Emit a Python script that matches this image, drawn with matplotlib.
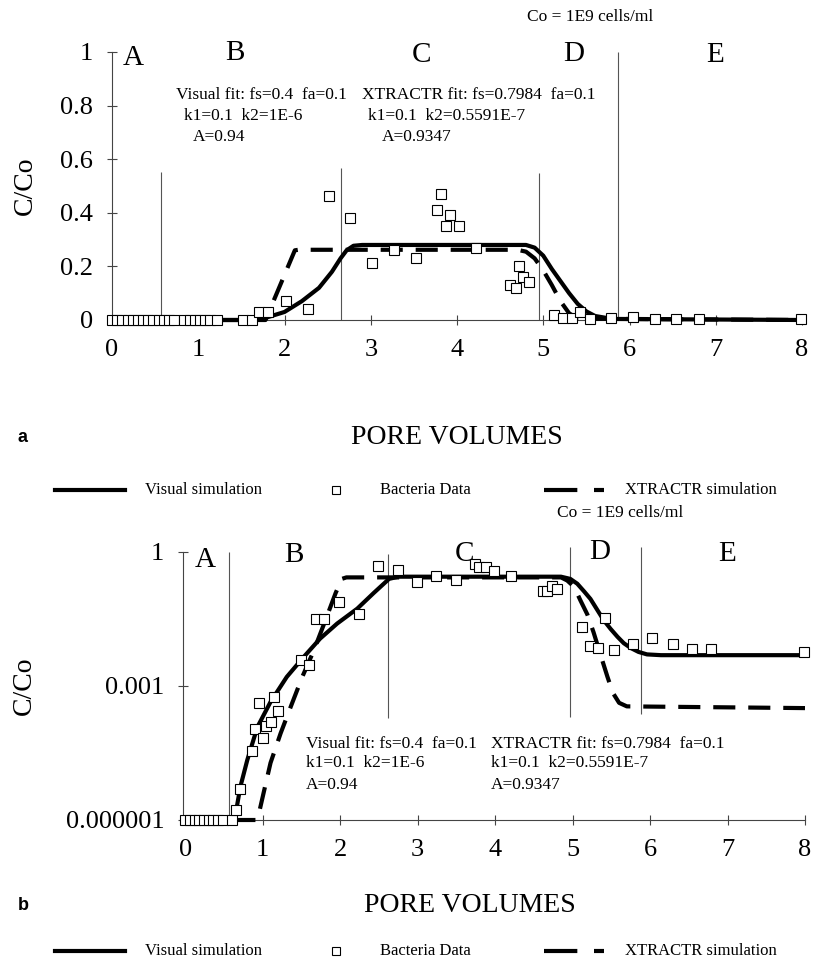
import matplotlib as mpl
import matplotlib.pyplot as plt
from matplotlib.lines import Line2D

mpl.rcParams.update({
    "font.family": "Liberation Serif",
    "axes.edgecolor": "#444444",
    "axes.linewidth": 0.8,
    "xtick.color": "#444444",
    "ytick.color": "#444444",
    "xtick.labelcolor": "black",
    "ytick.labelcolor": "black",
})

# ---------- panel a (linear C/Co) ----------
a_data_x = [0.0, 0.06, 0.12, 0.18, 0.24, 0.30, 0.36, 0.42, 0.48, 0.54, 0.60, 0.66, 0.72,
            0.84, 0.90, 0.96, 1.02, 1.08, 1.14, 1.22,
            1.52, 1.62, 1.71, 1.81, 2.02, 2.27, 2.52, 2.76, 3.02, 3.27, 3.52,
            3.77, 3.82, 3.87, 3.92, 4.02, 4.22, 4.62, 4.68, 4.72, 4.77, 4.83,
            5.13, 5.23, 5.33, 5.43, 5.54, 5.79, 6.04, 6.29, 6.54, 6.80, 7.99]
a_data_y = [0.0] * 20 + [
            0.0, 0.0, 0.03, 0.03, 0.072, 0.041, 0.463, 0.382, 0.211, 0.261, 0.231,
            0.411, 0.470, 0.351, 0.392, 0.351, 0.269, 0.129, 0.120, 0.201, 0.160, 0.140,
            0.019, 0.007, 0.007, 0.030, 0.005, 0.007, 0.010, 0.004, 0.004, 0.004, 0.004]

a_visual_x = [0.0, 1.6, 1.8, 2.0, 2.2, 2.4, 2.55, 2.65, 2.72, 2.8, 2.9,
              4.8, 4.9, 5.0, 5.1, 5.2, 5.3, 5.4, 5.5, 5.6, 5.8, 8.0]
a_visual_y = [0.0, 0.0, 0.01, 0.03, 0.07, 0.12, 0.18, 0.23, 0.26, 0.277, 0.28,
              0.28, 0.27, 0.24, 0.19, 0.145, 0.10, 0.06, 0.032, 0.015, 0.004, 0.0]

a_xtr_x = [0.0, 1.78, 2.12, 2.16, 4.7, 4.8, 4.9, 5.0, 5.1, 5.2, 5.3, 5.4, 8.0]
a_xtr_y = [0.0, 0.0, 0.26, 0.262, 0.262, 0.255, 0.23, 0.185, 0.13, 0.07, 0.025, 0.005, 0.0]

a_zone_x = [0.57, 2.65, 4.95, 5.87]
a_zone_top = [0.553, 0.566, 0.547, 1.0]

# ---------- panel b (log C/Co) ----------
b_data_x = [0.0, 0.06, 0.12, 0.18, 0.24, 0.30, 0.36, 0.42, 0.48, 0.60,
            0.655, 0.70, 0.86, 0.90, 0.95, 1.00, 1.04, 1.10, 1.15, 1.20,
            1.49, 1.60, 1.69, 1.79, 1.99, 2.24, 2.49, 2.74, 2.99, 3.24, 3.50,
            3.74, 3.79, 3.88, 3.98, 4.20, 4.62, 4.67, 4.73, 4.80,
            5.12, 5.22, 5.33, 5.42, 5.53, 5.78, 6.03, 6.29, 6.54, 6.79, 7.99]
b_data_y = [1e-6] * 10 + [
            1.7e-6, 5e-6, 3.5e-5, 1.1e-4, 4.2e-4, 6.9e-5, 1.3e-4, 1.55e-4, 5.7e-4, 2.7e-4,
            3.8e-3, 2.9e-3, 0.032, 0.032, 0.075, 0.04, 0.48, 0.40, 0.21, 0.29, 0.24,
            0.55, 0.45, 0.45, 0.38, 0.29, 0.135, 0.135, 0.17, 0.15,
            0.021, 0.0079, 0.0071, 0.033, 0.0063, 0.0089, 0.0116, 0.0089, 0.0069, 0.0069, 0.0058]

b_visual_x = [0.60, 0.65, 0.71, 0.80, 0.93, 1.10, 1.31, 1.53, 1.74, 1.96, 2.22, 2.43,
              2.63, 2.75, 4.85, 4.97, 5.06, 5.15, 5.23, 5.32, 5.40, 5.49, 5.58, 5.66,
              5.75, 5.85, 5.96, 6.14, 8.0]
b_visual_y = [1e-6, 1.4e-6, 5.5e-6, 2.2e-5, 1.2e-4, 4.4e-4, 1.6e-3, 4.5e-3, 1.15e-2,
              2.5e-2, 5.4e-2, 0.12, 0.25, 0.28, 0.28, 0.25, 0.195, 0.13, 0.089, 0.05,
              0.030, 0.019, 0.0126, 0.0091, 0.0071, 0.0058, 0.0051, 0.0049, 0.0049]

b_xtr_x = [0.62, 0.92, 0.95, 1.01, 1.10, 1.23, 1.36, 1.51, 1.66, 1.81, 1.94, 2.02, 2.08,
           4.85, 4.93, 5.02, 5.10, 5.19, 5.27, 5.36, 5.45, 5.52, 5.60, 5.70, 8.0]
b_xtr_y = [1e-6, 1e-6, 1.4e-6, 4e-6, 1.9e-5, 8.7e-5, 3.4e-4, 1.6e-3, 6.3e-3, 0.03, 0.12,
           0.25, 0.27, 0.27, 0.23, 0.166, 0.083, 0.040, 0.016, 0.005, 0.0016, 0.0007,
           0.00042, 0.00035, 0.00032]

b_zone_x = [0.57, 2.62, 4.97, 5.88]
b_zone_bottom = [1e-6, 1.9e-4, 2.0e-4, 2.4e-4]
b_zone_top = [1.0, 0.9, 1.3, 1.3]

zone_labels = ["A", "B", "C", "D", "E"]
x_ticks = [0, 1, 2, 3, 4, 5, 6, 7, 8]

SOLID_LW = 3.0
DASHES = (5.3, 3.1)
MARKER = dict(marker="s", ms=7, mfc="white", mec="black", mew=0.8, ls="none")


def _style_axes(ax):
    for side in ("top", "right"):
        ax.spines[side].set_visible(False)
    ax.tick_params(direction="inout", length=7, width=0.8, labelsize=19, pad=10)
    ax.tick_params(which="minor", length=0)
    ax.set_xticks(x_ticks)


def _draw_series(ax, dx, dy, vx, vy, tx, ty):
    ax.plot(vx, vy, color="black", lw=SOLID_LW, solid_capstyle="butt", zorder=3, clip_on=False)
    ax.plot(tx, ty, color="black", lw=SOLID_LW, dashes=DASHES, dash_capstyle="butt",
            zorder=3, clip_on=False)
    ax.plot(dx, dy, zorder=4, clip_on=False, **MARKER)


def _legend_row(fig, y):
    tr = fig.transFigure
    W = 816.0
    fig.add_artist(Line2D([55 / W, 125 / W], [y, y], transform=tr, color="black", lw=3.0))
    fig.text(145 / W, y, "Visual simulation", transform=tr, fontsize=12, va="center")
    fig.add_artist(Line2D([336 / W], [y], transform=tr, marker="s", ms=5.5, mfc="white",
                          mec="black", mew=0.8))
    fig.text(380 / W, y, "Bacteria Data", transform=tr, fontsize=12, va="center")
    fig.add_artist(Line2D([544 / W, 604 / W], [y, y], transform=tr, color="black", lw=3.0,
                          dashes=(8, 4)))
    fig.text(625 / W, y, "XTRACTR simulation", transform=tr, fontsize=12, va="center")


fig = plt.figure(figsize=(8.16, 9.76), dpi=100)

# ---------- panel a ----------
ax_a = fig.add_axes([112 / 816, 1 - 320 / 976, 690 / 816, 268 / 976])
ax_a.set_xlim(0, 8)
ax_a.set_ylim(0, 1)
_style_axes(ax_a)
ax_a.set_yticks([0, 0.2, 0.4, 0.6, 0.8, 1.0])
ax_a.set_yticklabels(["0", "0.2", "0.4", "0.6", "0.8", "1"])
ax_a.vlines(a_zone_x, 0, a_zone_top, color="#555555", lw=0.8, zorder=1, clip_on=False)
_draw_series(ax_a, a_data_x, a_data_y, a_visual_x, a_visual_y, a_xtr_x, a_xtr_y)

for lab, x, y in zip(zone_labels, [0.25, 1.42, 3.59, 5.35, 6.99],
                     [0.977, 0.995, 0.988, 0.994, 0.988]):
    ax_a.text(x, y, lab, fontsize=21, ha="center", va="center")

for x, y, s in [(0.74, 0.839, "Visual fit: fs=0.4  fa=0.1"),
                (0.83, 0.761, "k1=0.1  k2=1E-6"),
                (0.94, 0.683, "A=0.94"),
                (2.90, 0.839, "XTRACTR fit: fs=0.7984  fa=0.1"),
                (2.97, 0.761, "k1=0.1  k2=0.5591E-7"),
                (3.13, 0.683, "A=0.9347")]:
    ax_a.text(x, y, s, fontsize=12.5, ha="left", va="center")

ax_a.set_ylabel("C/Co", fontsize=20, va="center")
ax_a.yaxis.set_label_coords(-0.126, 0.5)

fig.text(590 / 816, 1 - 17 / 976, "Co = 1E9 cells/ml", fontsize=12.5, ha="center", va="center")
fig.text(457 / 816, 1 - 438 / 976, "PORE VOLUMES", fontsize=20, ha="center", va="center")
fig.text(18 / 816, 1 - 438 / 976, "a", family="Liberation Sans", fontweight="bold",
         fontsize=13, ha="left", va="center")
_legend_row(fig, 1 - 490 / 976)

# ---------- panel b ----------
ax_b = fig.add_axes([183 / 816, 1 - 820 / 976, 622 / 816, 268 / 976])
ax_b.set_yscale("log")
ax_b.set_xlim(-0.03, 8)
ax_b.set_ylim(1e-6, 1)
_style_axes(ax_b)
ax_b.set_yticks([1e-6, 1e-3, 1])
ax_b.set_yticklabels(["0.000001", "0.001", "1"])
ax_b.yaxis.set_minor_locator(mpl.ticker.NullLocator())
ax_b.vlines(b_zone_x, b_zone_bottom, b_zone_top, color="#555555", lw=0.8, zorder=1,
            clip_on=False)
_draw_series(ax_b, b_data_x, b_data_y, b_visual_x, b_visual_y, b_xtr_x, b_xtr_y)

for lab, x, y in zip(zone_labels, [0.26, 1.40, 3.6, 5.35, 7.0],
                     [0.65, 0.85, 0.9, 1.0, 0.9]):
    ax_b.text(x, y, lab, fontsize=21, ha="center", va="center")

for x, y, s in [(1.56, 5.1e-5, "Visual fit: fs=0.4  fa=0.1"),
                (1.56, 1.9e-5, "k1=0.1  k2=1E-6"),
                (1.56, 6.0e-6, "A=0.94"),
                (3.94, 5.1e-5, "XTRACTR fit: fs=0.7984  fa=0.1"),
                (3.94, 1.9e-5, "k1=0.1  k2=0.5591E-7"),
                (3.94, 6.0e-6, "A=0.9347")]:
    ax_b.text(x, y, s, fontsize=12.5, ha="left", va="center")

ax_b.set_ylabel("C/Co", fontsize=20, va="center")
ax_b.yaxis.set_label_coords(-0.255, 0.5)

fig.text(620 / 816, 1 - 513 / 976, "Co = 1E9 cells/ml", fontsize=12.5, ha="center", va="center")
fig.text(470 / 816, 1 - 905 / 976, "PORE VOLUMES", fontsize=20, ha="center", va="center")
fig.text(18 / 816, 1 - 905 / 976, "b", family="Liberation Sans", fontweight="bold",
         fontsize=13, ha="left", va="center")
_legend_row(fig, 1 - 951 / 976)

fig.savefig("out.png", dpi=100)
